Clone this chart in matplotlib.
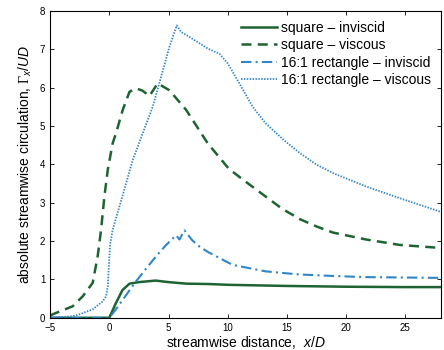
import matplotlib
matplotlib.use('Agg')
import matplotlib.pyplot as plt

plt.rcParams['font.family'] = ['Liberation Sans', 'DejaVu Sans']
plt.rcParams['mathtext.fontset'] = 'custom'
plt.rcParams['mathtext.rm'] = 'Liberation Sans'
plt.rcParams['mathtext.it'] = 'Liberation Sans:italic'
plt.rcParams['mathtext.sf'] = 'Liberation Serif'

# square - inviscid
sq_inv_x = [-5, 0, 0.5, 1.1, 1.7, 2.5, 3.9, 5, 6.5, 8.4, 10, 15, 20, 25, 28]
sq_inv_y = [0, 0, 0.35, 0.72, 0.89, 0.93, 0.97, 0.93, 0.89, 0.88, 0.86, 0.83, 0.81, 0.8, 0.8]

# square - viscous
sq_vis_x = [-5, -4.8, -3.1, -2.25, -1.41, -0.99, -0.7, -0.42, -0.14, 0.28, 0.56, 1.13, 1.7, 2.25, 2.8, 3.38,
            4.08, 5.07, 6.48, 8.3, 10.1, 11.5, 13.2, 14.6, 16.1, 17.5, 18.9, 21.7, 24.5, 28]
sq_vis_y = [0.05, 0.09, 0.3, 0.56, 0.91, 1.6, 2.3, 3.16, 3.85, 4.55, 4.81, 5.42, 5.89, 5.98, 5.92, 5.78,
            6.11, 5.93, 5.42, 4.55, 3.88, 3.55, 3.16, 2.84, 2.57, 2.38, 2.22, 2.04, 1.9, 1.82]

# 16:1 rectangle - inviscid
re_inv_x = [-5, 0, 0.5, 1.2, 2.25, 3.1, 3.94, 4.8, 5.63, 5.92, 6.34, 7.0, 7.6, 8.3, 10.4, 13.2, 16, 18.9, 21.7, 25, 28]
re_inv_y = [0, 0, 0.2, 0.5, 0.95, 1.28, 1.6, 1.9, 2.15, 2.04, 2.28, 2.02, 1.86, 1.72, 1.38, 1.21, 1.13, 1.09, 1.06, 1.05, 1.04]

# 16:1 rectangle - viscous
re_vis_x = [-5, -3.1, -2.54, -1.41, -0.56, -0.28, -0.14, -0.06, 0.06, 0.28, 1.13, 1.97, 2.82, 3.66, 4.37,
            5.07, 5.69, 6.06, 6.76, 8.3, 9.3, 10.0, 11.0, 12.1, 13.2, 14.7, 16.1, 17.5, 18.9, 21.7, 24.5, 28]
re_vis_y = [0, 0.04, 0.09, 0.22, 0.43, 0.56, 0.82, 1.26, 1.9, 2.3, 3.2, 4.11, 4.81, 5.5, 6.28,
            7.06, 7.62, 7.45, 7.32, 7.02, 6.88, 6.63, 6.1, 5.5, 5.07, 4.64, 4.29, 3.99, 3.77, 3.42, 3.12, 2.76]

green = '#1d6432'
blue = '#2f86c8'

fig = plt.figure(figsize=(4.44, 3.5), dpi=100)
ax = fig.add_axes([0.113, 0.092, 0.88, 0.877])

ax.plot(sq_inv_x, sq_inv_y, color=green, lw=1.8, label='square \u2013 inviscid')
ax.plot(sq_vis_x, sq_vis_y, color=green, lw=1.8, ls=(0, (4, 2.5)), label='square \u2013 viscous')
ax.plot(re_inv_x, re_inv_y, color=blue, lw=1.5, ls=(0, (5, 2, 1, 2)), label='16:1 rectangle \u2013 inviscid')
ax.plot(re_vis_x, re_vis_y, color=blue, lw=1.3, ls=(0, (0.8, 0.8)), label='16:1 rectangle \u2013 viscous')

ax.set_xlim(-5, 28)
ax.set_ylim(0, 8)
ax.set_xticks([-5, 0, 5, 10, 15, 20, 25])
ax.set_yticks(range(0, 9))
ax.tick_params(direction='in', top=True, right=True, labelsize=7, length=3, width=0.6)
for s in ax.spines.values():
    s.set_linewidth(0.8)

ax.set_xlabel(r'streamwise distance,  $\it{x/D}$', fontsize=10, labelpad=1)
ax.set_ylabel(r'absolute streamwise circulation, $\mathsf{\Gamma}_{\it{x}}$/$\it{UD}$', fontsize=10, labelpad=4)

ax.legend(loc='upper right', frameon=False, fontsize=10, handlelength=2.6,
          handletextpad=0.3, labelspacing=0.25, borderaxespad=0.3)

fig.savefig('out.png', dpi=100)
